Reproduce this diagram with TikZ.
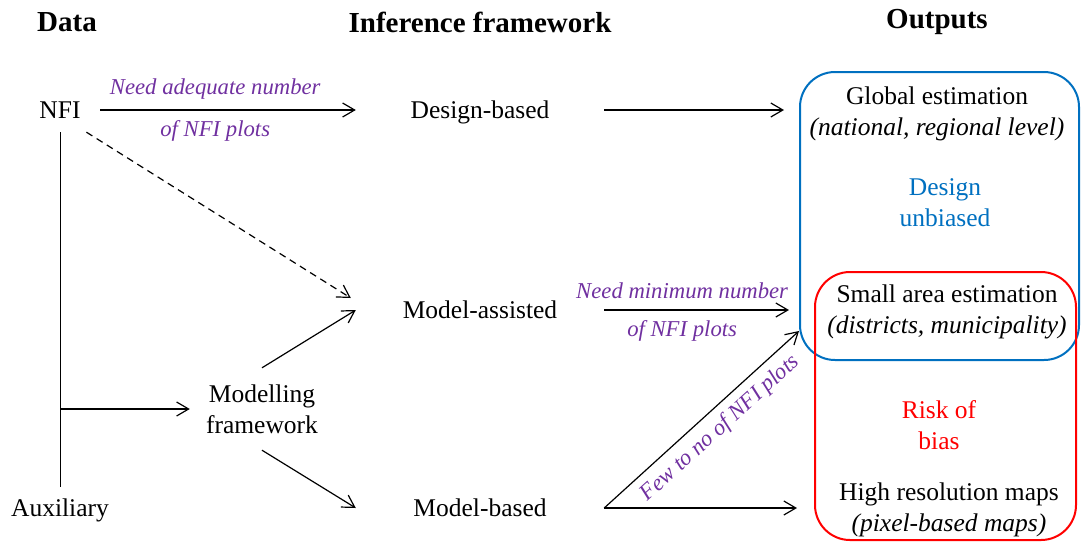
\documentclass[tikz,border=0pt]{standalone}
\usepackage{fontspec}
\setmainfont{Liberation Serif}
\usetikzlibrary{arrows.meta, positioning}
\definecolor{violet}{RGB}{112,48,160}
\definecolor{blue}{RGB}{0,112,192}
\definecolor{red}{RGB}{255,0,0}
\tikzstyle{title}=[font=\fontsize{29}{34}\selectfont\bfseries]
\tikzstyle{data}=[font=\fontsize{25.5}{31}\selectfont, align=center, inner sep=0pt]
\tikzstyle{inference}=[data, minimum width=248pt, minimum height=44pt, text depth=0pt]
\tikzstyle{note}=[font=\fontsize{22.7}{27}\selectfont\itshape, text=violet]
\tikzstyle{flow}=[-{Straight Barb[length=12pt,width=14pt]}, line width=1.2pt]
\tikzstyle{group}=[rectangle, line width=2pt, rounded corners=35pt, inner sep=0pt]

\begin{document}
\begin{tikzpicture}[x=1pt, y=-1pt]
\useasboundingbox (0,0) rectangle (1081,542);

\node[title] (datahead) at (67,22) {Data};
\node[title] (infhead) at (480,22) {Inference framework};
\node[title] (outhead) at (937,22) {Outputs};

\node[data, minimum width=80pt, minimum height=44pt] (nfi) at (60,110) {NFI};
\node[data, minimum height=46pt] (aux) at (60,510) {Auxiliary};
\node[data, minimum width=144pt, minimum height=82pt] (modelling) at (262,409) {Modelling\\framework};

\node[inference] (design) at (480,110) {Design-based};
\node[inference] (assisted) at (480,310) {Model-assisted};
\node[inference] (based) at (480,508) {Model-based};

\node[group, draw=blue, minimum width=279pt, minimum height=288pt] (unbiased) at (939.5,216) {};
\node[group, draw=red, minimum width=261pt, minimum height=268pt] (bias) at (945.5,406) {};

\node[data] (global) at (937,113.5) {Global estimation\\\textit{(national, regional level)}};
\node[data, text=blue] (dunbiased) at (945,203) {Design\\unbiased};
\node[data] (small) at (947,312) {Small area estimation\\\textit{(districts, municipality)}};
\node[data, text=red] (risk) at (939,425) {Risk of\\bias};
\node[data] (highres) at (949,510) {High resolution maps\\\textit{(pixel-based maps)}};

\draw (nfi.south) -- (nfi.south |- aux.north);
\draw[flow] (nfi.south |- modelling.west) -- (modelling.west);
\draw[flow] (nfi) -- node[note, above=7pt, pos=.45] {Need adequate number}
  node[note, below=7pt, pos=.45] {of NFI plots} (design);
\draw[flow, dash pattern=on 7pt off 5pt] (nfi.-40) -- ([xshift=-5pt,yshift=12pt]assisted.west);
\draw[flow] (modelling.north) -- (assisted.west);
\draw[flow] (modelling.south) -- (based.west);

\draw[flow, shorten >=15pt] (design) -- (design -| unbiased.west);
\draw[flow, shorten >=10pt] (assisted) -- node[note, above=7pt, pos=.4] {Need minimum number}
  node[note, below=7pt, pos=.4] {of NFI plots} (assisted -| unbiased.west);
\draw[flow, shorten >=17pt] (based) -- (based -| bias.west);
\draw[flow] (based.east) -- node[note, below=5pt, sloped, pos=.53] {Few to no of NFI plots}
  ([yshift=30pt]unbiased.south west);
\end{tikzpicture}
\end{document}
